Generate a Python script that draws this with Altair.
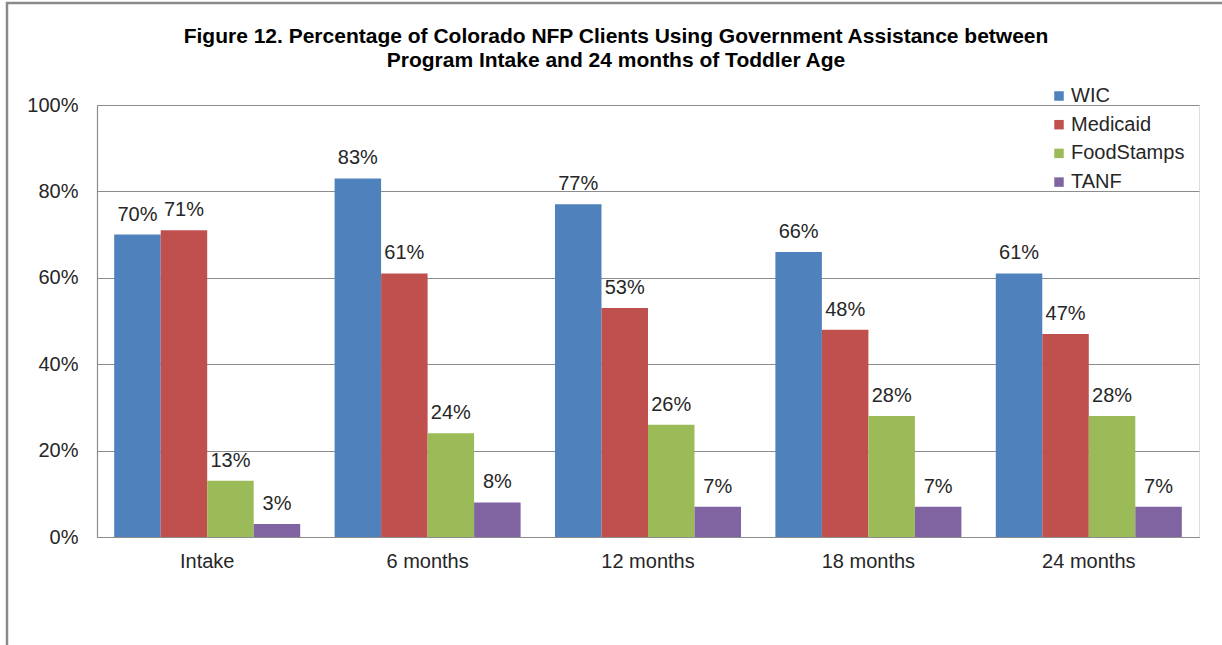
import altair as alt
import pandas as pd

categories = ["Intake", "6 months", "12 months", "18 months", "24 months"]
series = ["WIC", "Medicaid", "FoodStamps", "TANF"]
colors = ["#4F81BD", "#C0504D", "#9BBB59", "#8064A2"]
wic = [70, 83, 77, 66, 61]
medicaid = [71, 61, 53, 48, 47]
foodstamps = [13, 24, 26, 28, 28]
tanf = [3, 8, 7, 7, 7]
title_lines = ["Figure 12. Percentage of Colorado NFP Clients Using Government Assistance  between",
               "Program Intake and 24 months of Toddler Age"]

rows = []
for s, vals in zip(series, [wic, medicaid, foodstamps, tanf]):
    for c, v in zip(categories, vals):
        rows.append({"cat": c, "series": s, "value": v / 100.0, "label": f"{v}%"})
df = pd.DataFrame(rows)

FONT = "Liberation Sans"
TXT = "#262626"
GRID = "#8c8c8c"
FS = 20

base = alt.Chart(df).encode(
    x=alt.X("cat:N", sort=categories, title=None,
            scale=alt.Scale(paddingInner=0.156, paddingOuter=0.078),
            axis=alt.Axis(labelAngle=0, labelFont=FONT, labelFontSize=FS,
                          labelColor=TXT, labelPadding=14, ticks=False,
                          domainColor=GRID, domainWidth=1.2, grid=False)),
    xOffset=alt.XOffset("series:N", sort=series,
                        scale=alt.Scale(paddingInner=0, paddingOuter=0)),
)

bars = base.mark_bar().encode(
    y=alt.Y("value:Q", title=None,
            scale=alt.Scale(domain=[0, 1], nice=False),
            axis=alt.Axis(values=[0, 0.2, 0.4, 0.6, 0.8, 1.0], format=".0%",
                          labelFont=FONT, labelFontSize=FS, labelColor=TXT,
                          labelPadding=19, ticks=False, domainColor=GRID,
                          domainWidth=1.2, gridColor=GRID, gridWidth=1.2)),
    color=alt.Color("series:N", sort=series,
                    scale=alt.Scale(domain=series, range=colors),
                    legend=alt.Legend(title=None, orient="none", legendX=952,
                                      legendY=-19, symbolType="square",
                                      symbolSize=90, symbolStrokeWidth=0,
                                      labelFont=FONT, labelFontSize=FS,
                                      labelColor=TXT, rowPadding=8.7,
                                      labelOffset=2)),
)

labels = base.mark_text(font=FONT, fontSize=FS, color=TXT, baseline="alphabetic",
                        dy=-14).encode(
    y=alt.Y("value:Q"),
    text="label:N",
)

one = pd.DataFrame({"k": [0]})
frame = alt.Chart(one).mark_rect(fill=None, stroke="#8a8a8a", strokeWidth=2.5).encode(
    x=alt.value(-90), x2=alt.value(1140), y=alt.value(-102), y2=alt.value(560)
)

title = alt.Chart(one).mark_text(font="Liberation Sans Narrow, Liberation Sans, sans-serif",
                                 fontSize=21, fontWeight="bold", color="#000000",
                                 align="center", baseline="middle",
                                 lineHeight=24).encode(
    x=alt.value(519), y=alt.value(-68), text=alt.value(title_lines)
)

chart = alt.layer(frame, title, bars, labels).properties(
    width=1102, height=432,
    padding={"left": 97, "top": 105, "right": 23, "bottom": 108},
    autosize=alt.AutoSizeParams(type="none"),
).configure_view(stroke=None).configure(background="white")

chart.save("out.html", embed_options={"renderer": "svg", "actions": False})
